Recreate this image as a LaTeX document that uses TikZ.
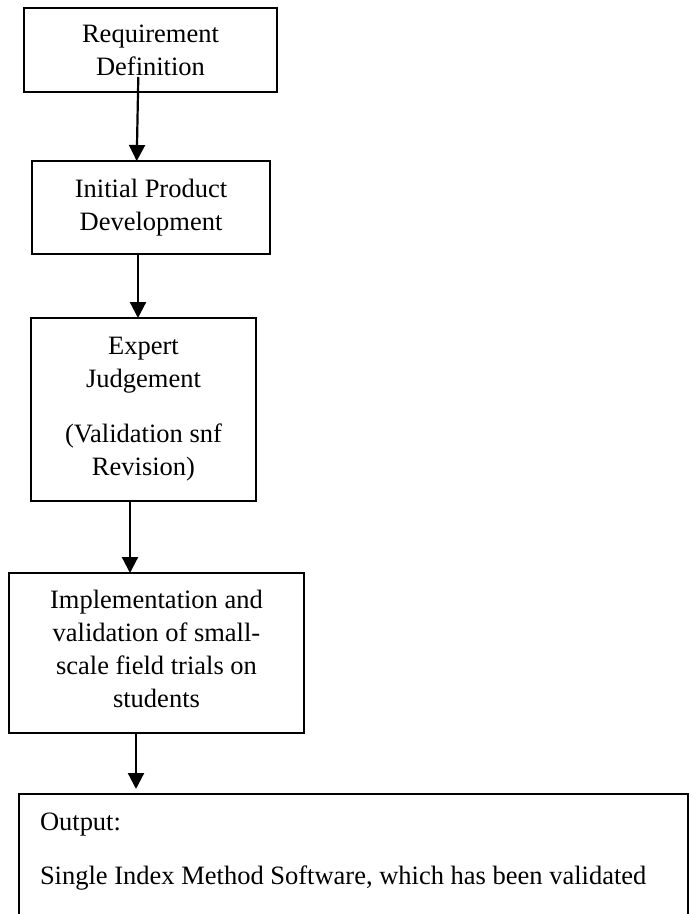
\documentclass[tikz,border=0pt]{standalone}
\usepackage{fontspec}
\setmainfont{Liberation Serif}
\usetikzlibrary{arrows.meta}
\begin{document}
\begin{tikzpicture}[x=1pt,y=-1pt,
  box/.style={draw=black,line width=1.8pt,rectangle,inner sep=0pt,outer sep=0pt,align=center,
    font=\fontsize{26.5}{33}\selectfont},
  arr/.style={draw=black,line width=2.2pt,-{Triangle[width=16pt,length=16pt]}},
  txt/.style={inner sep=0pt,outer sep=0pt,align=left,font=\fontsize{26.5}{33}\selectfont}]
\clip (0,0) rectangle (693,914);
\fill[white] (0,0) rectangle (693,914);
\node[box,minimum width=253pt,minimum height=84pt] (req) at (150.5,50) {Requirement\\Definition};
\node[box,minimum width=238pt,minimum height=93pt] (ipd) at (151,207.5) {Initial Product\\Development};
\node[box,minimum width=225pt,minimum height=183pt] (ej) at (143.5,409.5) {Expert\\Judgement\\[22pt](Validation snf\\Revision)};
\node[box,minimum width=295pt,minimum height=160pt] (impl) at (156.5,653) {Implementation and\\validation of small-\\scale field trials on\\students\rule[-9pt]{0pt}{9pt}};
\node[box,anchor=north west,minimum width=669pt,minimum height=220pt] (out) at (19,794) {};
\node[txt,anchor=north west] (outtext) at (40,813) {Output:\\[21pt]Single Index Method Software, which has been validated};
\coordinate (a1s) at (138.3,77);
\draw[arr] (a1s) -- ([xshift=-14.3pt]ipd.north);
\draw[arr] ([xshift=-13pt]ipd.south) -- ([xshift=-5.5pt]ej.north);
\draw[arr] ([xshift=-13.5pt]ej.south) -- ([xshift=-26.5pt]impl.north);
\draw[arr] ([xshift=-20.5pt]impl.south) -- ([xshift=-217.5pt,yshift=5pt]out.north);
\end{tikzpicture}
\end{document}
